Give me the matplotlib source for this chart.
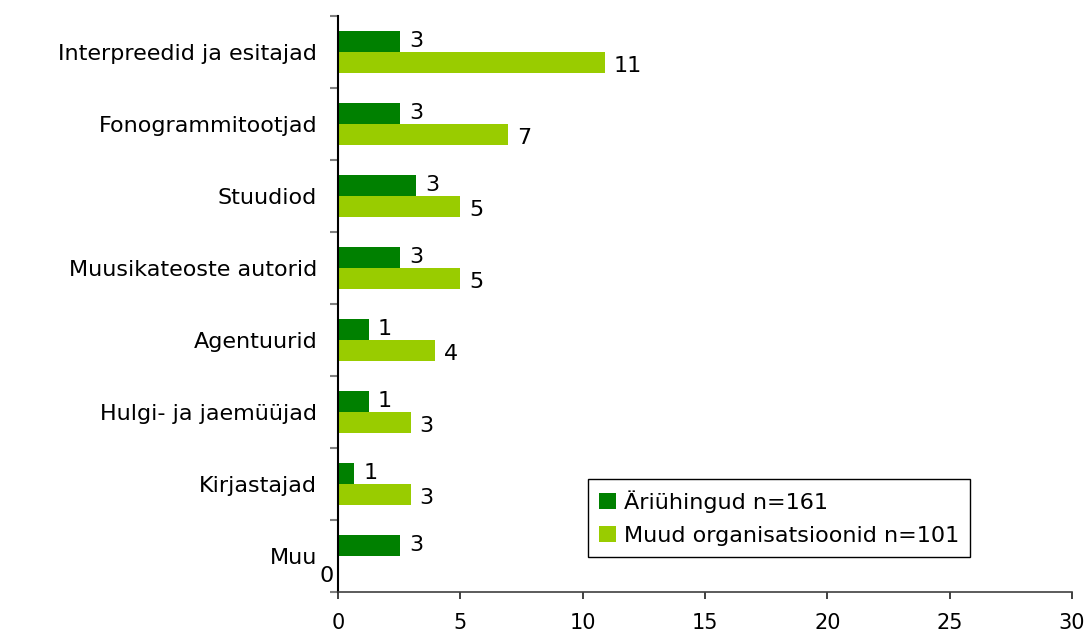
import matplotlib
matplotlib.use("Agg")
import matplotlib.pyplot as plt
import numpy as np
from matplotlib.patches import Patch

categories = ["Interpreedid ja esitajad", "Fonogrammitootjad", "Stuudiod",
              "Muusikateoste autorid", "Agentuurid", "Hulgi- ja jaemüüjad",
              "Kirjastajad", "Muu"]
ariuhingud = [2.55, 2.55, 3.2, 2.55, 1.25, 1.25, 0.66, 2.55]
muud = [10.9, 6.95, 5.0, 5.0, 3.95, 2.97, 2.97, 0.0]
ariuhingud_labels = ["3", "3", "3", "3", "1", "1", "1", "3"]
muud_labels = ["11", "7", "5", "5", "4", "3", "3", "0"]
series_names = ["Äriühingud n=161", "Muud organisatsioonid n=101"]
xticks = [0, 5, 10, 15, 20, 25, 30]

dark = "#008000"
light = "#99CC00"
fs = 16
fs_tick = 15

fig = plt.figure(figsize=(10.87, 6.32), dpi=100)
ax = fig.add_axes([338/1087, 1 - 591.7/632, (1072-338)/1087, (591.7-15.7)/632])

y = np.arange(len(categories))
h = 0.29
ax.barh(y - h/2, ariuhingud, height=h, color=dark, label=series_names[0])
ax.barh(y + h/2, muud, height=h, color=light, label=series_names[1])

for yi, v, lab in zip(y, ariuhingud, ariuhingud_labels):
    ax.annotate(lab, (v, yi - h/2), xytext=(6.5, 0), textcoords="offset points",
                ha="left", va="center", fontsize=fs, color="black")
for yi, v, lab in zip(y, muud, muud_labels):
    if v == 0:
        ax.annotate(lab, (v, yi + h/2), xytext=(-8.5, -7), textcoords="offset points",
                    ha="center", va="center", fontsize=fs, color="black")
    else:
        ax.annotate(lab, (v, yi + h/2), xytext=(6.5, -3), textcoords="offset points",
                    ha="left", va="center", fontsize=fs, color="black")

ax.set_xlim(0, 30)
ax.set_ylim(len(categories) - 0.5, -0.5)
ax.set_xticks(xticks)
ax.set_xticklabels([str(t) for t in xticks], fontsize=fs_tick)
ax.set_yticks(np.arange(len(categories) + 1) - 0.5, minor=False)
ax.set_yticklabels([])
ax.set_yticks(y, minor=True)
ax.set_yticklabels(categories, minor=True, fontsize=fs)
ax.tick_params(axis="y", which="minor", length=0, pad=15)
ax.tick_params(axis="y", which="major", length=6, width=1.5, color="#808080")
ax.tick_params(axis="x", length=5, width=1.2, color="#202020", pad=10)

for s in ["top", "right"]:
    ax.spines[s].set_visible(False)
ax.spines["left"].set_color("black")
ax.spines["left"].set_linewidth(1.5)
ax.spines["bottom"].set_color("#404040")
ax.spines["bottom"].set_linewidth(1.2)

handles = [Patch(facecolor=dark, edgecolor="none", label=series_names[0]),
           Patch(facecolor=light, edgecolor="none", label=series_names[1])]
leg = ax.legend(handles=handles, loc="upper left",
                bbox_to_anchor=((588-338)/734, 1 - (479-15.7)/576),
                borderaxespad=0,
                fontsize=fs, frameon=True, fancybox=False, framealpha=1,
                edgecolor="black", handlelength=0.75, handleheight=0.75,
                handletextpad=0.35, borderpad=0.5, labelspacing=0.6)
leg.get_frame().set_linewidth(1.0)

fig.savefig("out.png", dpi=100)
